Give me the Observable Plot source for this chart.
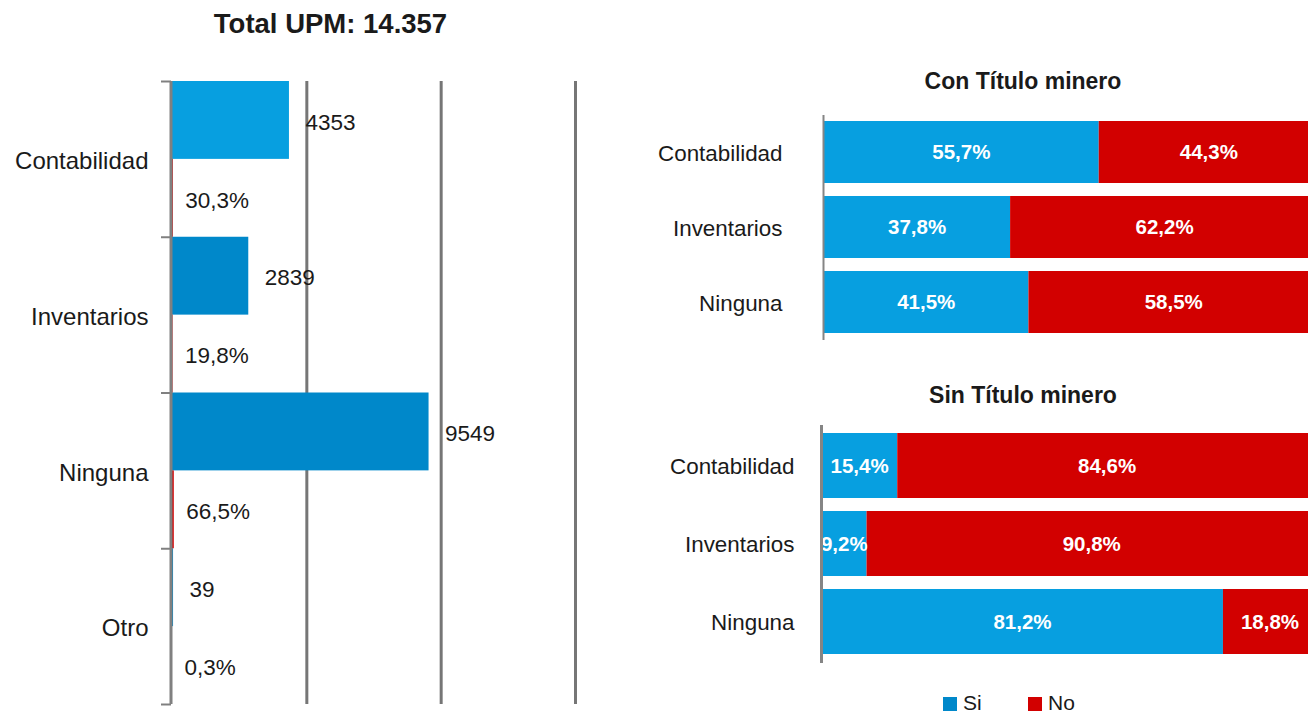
<!DOCTYPE html>
<html><head><meta charset="utf-8">
<script src="https://cdn.jsdelivr.net/npm/d3@7"></script>
<script src="https://cdn.jsdelivr.net/npm/@observablehq/plot@0.6"></script>
<style>
html,body{margin:0;padding:0;width:1308px;height:713px;overflow:hidden;background:#fff;font-family:"Liberation Sans",Arial,sans-serif;color:#1a1a1a}
.abs{position:absolute}
svg{max-width:none !important}
.ttl{font-weight:bold;text-align:center;white-space:nowrap}
.sw{position:absolute;width:14px;height:14px}
</style></head><body>
<div id="title" class="abs ttl" style="left:0;top:10px;width:661px;font-size:27.5px;line-height:27.5px"></div>
<div id="left" class="abs" style="left:0;top:0"></div>
<div id="t1" class="abs ttl" style="left:903px;top:70px;width:240px;font-size:23px;line-height:23px"></div>
<div id="top" class="abs" style="left:600px;top:100px"></div>
<div id="t2" class="abs ttl" style="left:903px;top:384px;width:240px;font-size:23px;line-height:23px"></div>
<div id="bot" class="abs" style="left:598px;top:410px"></div>
<div id="legend" class="abs" style="left:0;top:0"></div>
<script>
const totalTitle = "Total UPM: 14.357";
const categories = ["Contabilidad", "Inventarios", "Ninguna", "Otro"];
const upmCounts = [4353, 2839, 9549, 39];
const upmShares = [30.3, 19.8, 66.5, 0.3];
const titleCon = "Con Título minero";
const titleSin = "Sin Título minero";
const groupCategories = ["Contabilidad", "Inventarios", "Ninguna"];
const responses = ["Si", "No"];
const conSi = [55.7, 37.8, 41.5];
const conNo = [44.3, 62.2, 58.5];
const sinSi = [15.4, 9.2, 81.2];
const sinNo = [84.6, 90.8, 18.8];

const FONT = '"Liberation Sans", Arial, sans-serif';
const BLUE = "#079fe0", BLUE_DARK = "#0088ca", RED = "#d20000";
const fmtPct = v => d3.format(".1f")(v).replace(".", ",") + "%";

document.getElementById("title").textContent = totalTitle;
document.getElementById("t1").textContent = titleCon;
document.getElementById("t2").textContent = titleSin;

// Left chart
const leftRows = categories.map((c, i) => ({cat: c, i, count: upmCounts[i], share: upmShares[i]}));
const left = Plot.plot({
  width: 610, height: 713,
  marginLeft: 172, marginRight: 35, marginTop: 81, marginBottom: 9,
  style: {fontFamily: FONT, fontSize: "23px", color: "#1a1a1a", background: "transparent"},
  x: {domain: [0, 15000], axis: null},
  y: {domain: [0, categories.length], reverse: true, axis: null},
  marks: [
    Plot.ruleX([5000, 10000, 15000], {stroke: "#767676", strokeWidth: 3}),
    Plot.rectX(leftRows, {x1: () => 0, x2: "count", y1: d => d.i, y2: d => d.i + 0.5,
      fill: d => d.i === 0 ? BLUE : BLUE_DARK}),
    Plot.rectX(leftRows, {x1: () => 0, x2: "share", y1: d => d.i + 0.5, y2: d => d.i + 1, fill: RED}),
    Plot.ruleX([0], {stroke: "#808080", strokeWidth: 3, dx: -1.5}),
    Plot.axisY(d3.range(categories.length + 1), {tickSize: 10, tickFormat: () => "", stroke: "#808080", strokeWidth: 2, dx: -1, label: null}),
    Plot.axisY(categories.map((c, i) => i + 0.5), {tickSize: 0, tickPadding: 24, tickFormat: d => categories[Math.floor(d)], fontSize: 24, dy: 2, label: null}),
    Plot.text(leftRows, {x: "count", y: d => d.i + 0.25, text: d => String(d.count), textAnchor: "start", dx: 16, dy: 2, fontSize: 22.5}),
    Plot.text(leftRows, {x: "share", y: d => d.i + 0.75, text: d => fmtPct(d.share), textAnchor: "start", dx: 12, dy: 2, fontSize: 22.5})
  ]
});
document.getElementById("left").appendChild(left);

function stackPlot(si, no, o) {
  const rows = [];
  groupCategories.forEach((c, i) => {
    rows.push({cat: c, resp: responses[0], value: si[i]});
    rows.push({cat: c, resp: responses[1], value: no[i]});
  });
  return Plot.plot({
    width: o.marginLeft + 495, height: o.height,
    marginLeft: o.marginLeft, marginRight: 0, marginTop: o.marginTop, marginBottom: o.marginBottom,
    style: {fontFamily: FONT, fontSize: "22px", color: "#1a1a1a", background: "transparent"},
    x: {domain: [0, 100], axis: null},
    y: {domain: groupCategories, paddingInner: o.pi, paddingOuter: o.po, axis: null},
    color: {domain: responses, range: [BLUE, RED]},
    marks: [
      Plot.barX(rows, {x: "value", y: "cat", fill: "resp"}),
      Plot.textX(rows, Plot.stackX({x: "value", y: "cat", z: "resp", text: d => fmtPct(d.value),
        fill: "white", fontWeight: "bold", fontSize: 20.5})),
      Plot.ruleX([0], {stroke: "#858585", strokeWidth: o.axisW}),
      Plot.axisY({tickSize: 0, tickPadding: o.pad, fontSize: 22.4, dy: 1, label: null})
    ]
  });
}
document.getElementById("top").appendChild(stackPlot(conSi, conNo,
  {marginLeft: 223, height: 245, marginTop: 15, marginBottom: 5, pi: 0.17, po: 0.085, axisW: 2, pad: 41}));
document.getElementById("bot").appendChild(stackPlot(sinSi, sinNo,
  {marginLeft: 223, height: 258, marginTop: 15, marginBottom: 5, pi: 0.165, po: 0.09, axisW: 3, pad: 27}));

// Legend
const lg = document.getElementById("legend");
const legendItems = [{label: responses[0], color: BLUE_DARK, x: 943}, {label: responses[1], color: RED, x: 1028}];
legendItems.forEach(it => {
  const s = document.createElement("div");
  s.className = "sw"; s.style.left = it.x + "px"; s.style.top = "697px"; s.style.background = it.color;
  lg.appendChild(s);
  const t = document.createElement("div");
  t.className = "abs"; t.style.left = (it.x + 20) + "px"; t.style.top = "692px";
  t.style.fontSize = "21px"; t.style.lineHeight = "21px"; t.textContent = it.label;
  lg.appendChild(t);
});
</script>
</body></html>
